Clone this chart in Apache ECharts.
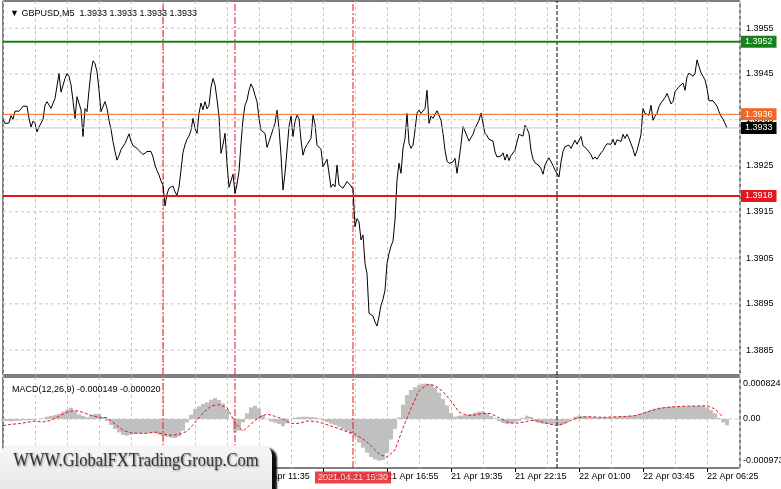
<!DOCTYPE html>
<html><head><meta charset="utf-8">
<script src="https://cdn.jsdelivr.net/npm/echarts@6/dist/echarts.min.js"></script>
<style>html,body{margin:0;padding:0;background:#fff}#c{width:781px;height:489px}</style>
</head><body><div id="c"></div>
<script>
// ---------------- data ----------------
const symbolName = 'GBPUSD,M5';
// close of every M5 bar, bar 0 = 21 Apr 00:55
const closePrices = [
1.39349,1.39340,1.39337,1.39341,1.39357,1.39349,1.39367,1.39368,1.39367,1.39372,
1.39378,1.39379,1.39378,1.39351,1.39332,1.39345,1.39340,1.39321,1.39332,1.39336,
1.39349,1.39380,1.39388,1.39385,1.39373,1.39377,1.39395,1.39399,1.39450,1.39409,
1.39406,1.39439,1.39450,1.39444,1.39425,1.39390,1.39351,1.39399,1.39395,1.39370,
1.39311,1.39373,1.39366,1.39413,1.39454,1.39478,1.39472,1.39454,1.39413,1.39366,
1.39366,1.39388,1.39373,1.39347,1.39327,1.39300,1.39278,1.39259,1.39269,1.39282,
1.39283,1.39296,1.39306,1.39317,1.39301,1.39291,1.39287,1.39285,1.39280,1.39278,
1.39271,1.39273,1.39278,1.39278,1.39278,1.39266,1.39248,1.39236,1.39226,1.39213,
1.39204,1.39158,1.39184,1.39197,1.39197,1.39202,1.39189,1.39181,1.39200,1.39237,
1.39276,1.39293,1.39305,1.39312,1.39325,1.39351,1.39329,1.39318,1.39362,1.39385,
1.39370,1.39388,1.39372,1.39380,1.39420,1.39439,1.39425,1.39393,1.39355,1.39274,
1.39293,1.39318,1.39252,1.39199,1.39196,1.39228,1.39185,1.39206,1.39234,1.39296,
1.39349,1.39380,1.39391,1.39413,1.39427,1.39418,1.39402,1.39388,1.39351,1.39325,
1.39327,1.39318,1.39287,1.39300,1.39313,1.39327,1.39340,1.39369,1.39329,1.39270,
1.39193,1.39230,1.39281,1.39333,1.39356,1.39311,1.39344,1.39358,1.39351,1.39303,
1.39270,1.39285,1.39293,1.39294,1.39307,1.39358,1.39338,1.39292,1.39296,1.39283,
1.39244,1.39248,1.39261,1.39259,1.39199,1.39206,1.39200,1.39248,1.39204,1.39203,
1.39197,1.39204,1.39212,1.39209,1.39202,1.39194,1.39112,1.39130,1.39123,1.39083,
1.39094,1.39031,1.39009,1.38921,1.38921,1.38915,1.38902,1.38893,1.38914,1.38939,
1.38952,1.38972,1.39031,1.39053,1.39069,1.39081,1.39127,1.39215,1.39252,1.39230,
1.39285,1.39307,1.39362,1.39296,1.39285,1.39292,1.39325,1.39363,1.39369,1.39362,
1.39363,1.39373,1.39413,1.39340,1.39356,1.39351,1.39351,1.39368,1.39366,1.39347,
1.39318,1.39281,1.39257,1.39252,1.39248,1.39255,1.39263,1.39230,1.39259,1.39294,
1.39333,1.39336,1.39312,1.39301,1.39300,1.39316,1.39329,1.39331,1.39347,1.39363,
1.39340,1.39318,1.39313,1.39305,1.39305,1.39301,1.39277,1.39266,1.39268,1.39268,
1.39275,1.39259,1.39272,1.39258,1.39269,1.39273,1.39281,1.39299,1.39316,1.39316,
1.39312,1.39336,1.39328,1.39318,1.39281,1.39261,1.39253,1.39250,1.39247,1.39240,
1.39228,1.39248,1.39257,1.39264,1.39261,1.39247,1.39237,1.39233,1.39222,1.39255,
1.39278,1.39289,1.39290,1.39292,1.39285,1.39287,1.39303,1.39294,1.39303,1.39311,
1.39291,1.39289,1.39283,1.39285,1.39271,1.39261,1.39266,1.39261,1.39268,1.39275,
1.39280,1.39289,1.39295,1.39292,1.39294,1.39305,1.39292,1.39304,1.39300,1.39300,
1.39316,1.39307,1.39316,1.39307,1.39295,1.39283,1.39268,1.39280,1.39297,1.39316,
1.39373,1.39362,1.39358,1.39358,1.39380,1.39347,1.39356,1.39362,1.39377,1.39385,
1.39389,1.39397,1.39406,1.39395,1.39383,1.39388,1.39410,1.39406,1.39421,1.39422,
1.39429,1.39413,1.39443,1.39451,1.39451,1.39444,1.39450,1.39480,1.39465,1.39452,
1.39444,1.39436,1.39417,1.39390,1.39387,1.39390,1.39388,1.39378,1.39366,1.39356,
1.39349,1.39340,1.39330
];
// MACD main (histogram), read every 2 bars
const macdMainStep = 2;
const macdMain = [
-0.000047,-0.000047,-0.000054,-0.000047,-0.000039,-0.000031,-0.000031,-0.000023,-0.000016,0,
0.000016,0.000054,0.000070,0.000093,0.000124,0.000171,0.000218,0.000264,0.000186,0.000109,
0.000070,0.000039,0.000085,0.000117,0.000117,0.000047,-0.000047,-0.000140,-0.000233,-0.000311,
-0.000373,-0.000389,-0.000365,-0.000350,-0.000342,-0.000334,-0.000326,-0.000319,-0.000334,-0.000365,
-0.000396,-0.000412,-0.000435,-0.000443,-0.000404,-0.000272,-0.000078,0.000101,0.000233,0.000295,
0.000350,0.000389,0.000451,0.000490,0.000443,0.000365,0.000233,0,-0.000311,-0.000272,
-0.000078,0.000132,0.000272,0.000311,0.000249,0.000093,-0.000008,-0.000062,-0.000085,-0.000117,
-0.000171,-0.000101,0.000008,0.000031,0.000047,0.000054,0.000054,0.000047,0.000039,0.000016,
-0.000031,-0.000070,-0.000109,-0.000140,-0.000179,-0.000241,-0.000280,-0.000350,-0.000427,-0.000552,
-0.000668,-0.000785,-0.000886,-0.000940,-0.000973,-0.000960,-0.000800,-0.000480,-0.000230,0.000040,
0.000334,0.000559,0.000676,0.000738,0.000790,0.000820,0.000824,0.000810,0.000738,0.000614,
0.000466,0.000319,0.000140,0.000054,0.000078,0.000085,0.000101,0.000117,0.000148,0.000171,
0.000179,0.000132,0.000070,0.000016,-0.000054,-0.000093,-0.000117,-0.000109,-0.000085,-0.000047,
0.000023,0.000078,0.000047,-0.000054,-0.000093,-0.000109,-0.000117,-0.000124,-0.000132,-0.000155,
-0.000124,-0.000078,0.000008,0.000054,0.000078,0.000070,0.000062,0.000054,0.000047,0.000039,
0.000039,0.000039,0.000047,0.000054,0.000054,0.000062,0.000070,0.000078,0.000093,0.000109,
0.000148,0.000179,0.000218,0.000241,0.000264,0.000272,0.000280,0.000287,0.000287,0.000287,
0.000295,0.000295,0.000303,0.000303,0.000311,0.000303,0.000272,0.000210,0.000132,0.000023,
-0.000078,-0.000149
];
// MACD signal, read every 4 bars
const macdSignalStep = 4;
const macdSignal = [
-0.000155,-0.000124,-0.000109,-0.000078,-0.000047,-0.000070,-0.000031,0.000062,0.000155,0.000202,
0.000155,0.000085,0.000039,0.000031,-0.000117,-0.000264,-0.000326,-0.000334,-0.000334,-0.000303,
-0.000350,-0.000381,-0.000357,-0.000287,-0.000085,0.000140,0.000303,0.000334,0.000264,-0.000078,
-0.000287,-0.000117,0.000039,0.000117,0.000062,0,-0.000101,-0.000101,-0.000047,-0.000054,
-0.000101,-0.000163,-0.000225,-0.000295,-0.000350,-0.000466,-0.000622,-0.000816,-0.000894,-0.000723,
-0.000210,0.000249,0.000660,0.000800,0.000785,0.000637,0.000420,0.000163,0.000085,0.000093,
0.000132,0.000124,0.000031,-0.000070,-0.000101,-0.000078,-0.000031,-0.000047,-0.000101,-0.000148,
-0.000117,-0.000031,0.000031,0.000054,0.000047,0.000039,0.000047,0.000054,0.000062,0.000078,
0.000132,0.000194,0.000241,0.000272,0.000287,0.000295,0.000303,0.000303,0.000311,0.000233,
0.000040
];
const macdSignalLast = -0.000020;
// x tick labels, one every 32 bars
const timeLabels = ['21 Apr 00:55','21 Apr 03:35','21 Apr 06:15','21 Apr 08:55','21 Apr 11:35','21 Apr 14:15',
  '21 Apr 16:55','21 Apr 19:35','21 Apr 22:15','22 Apr 01:00','22 Apr 03:45','22 Apr 06:25'];
// price grid
const priceGridValues = [1.39550,1.39449,1.39348,1.39246,1.39145,1.39043,1.38942,1.38840];
const priceGridLabels = ['1.3955','1.3945','1.3935','1.3925','1.3915','1.3905','1.3895','1.3885'];
// horizontal levels: resistance, pivot, bid, support
const levelValues = [1.3952, 1.3936, 1.3933, 1.3918];
// MACD scale labels
const macdLabelValues = [0.000824, 0, -0.000973];
const macdLabelTexts = ['0.000824', '0.00', '-0.000973'];
// vertical markers (bar index)
const markerBars = [80, 116, 175];
const markerTimeText = '2021.04.21 15:30';
const markerLabelBar = 175;
const daySeparatorBar = 277;

// ---------------- chart ----------------
const FONT = 'Liberation Sans';
const FS = 9;
const X_MAX = 368.5;
const P_MIN = 1.38785, P_MAX = 1.39610;
const M_MIN = -0.001142, M_MAX = 0.000979;
const levelColors = ['#17801a', '#f26522', '#c8c8c8', '#e3161c'];
const levelBoxColors = ['#17801a', '#f26522', '#000000', '#e3161c'];
const levelWidths = [2, 1, 1, 2];
const redDash = [7, 2, 2, 2];
const gridDash = [3, 3];
const gridColor = '#c4c4c4';

const chart = echarts.init(document.getElementById('c'), null, {renderer: 'canvas'});
const last = closePrices[closePrices.length - 1].toFixed(4);
const macdLast = macdMain[macdMain.length - 1];

function hLine(g, v, text, lineStyle, labelStyle, z) {
  return {type: 'line', xAxisIndex: g, yAxisIndex: g, data: [[0, v], [X_MAX, v]], symbol: 'none',
    silent: true, z: z, clip: false, lineStyle: lineStyle,
    endLabel: text ? Object.assign({show: true, formatter: text, fontFamily: FONT, fontSize: FS}, labelStyle) : {show: false}};
}
function vLine(g, b, lineStyle, z) {
  const lo = g === 0 ? P_MIN : M_MIN, hi = g === 0 ? P_MAX : M_MAX;
  return {type: 'line', xAxisIndex: g, yAxisIndex: g, data: [[b, lo], [b, hi]], symbol: 'none',
    silent: true, z: z, lineStyle: lineStyle};
}

const series = [];
// price grid lines with labels
priceGridValues.forEach((v, i) => series.push(hLine(0, v, priceGridLabels[i],
  {color: gridColor, type: gridDash, width: 1}, {color: '#000', distance: 6}, 1)));
// vertical markers in both panes
[0, 1].forEach(g => {
  markerBars.forEach(b => series.push(vLine(g, b, {color: '#e3161c', type: redDash, width: 1}, 3)));
  series.push(vLine(g, daySeparatorBar, {color: '#000', type: [4, 2], width: 1}, 3));
});
// price
series.push({type: 'line', xAxisIndex: 0, yAxisIndex: 0, data: closePrices.map((v, i) => [i, v]),
  symbol: 'none', z: 4, silent: true, lineStyle: {color: '#000', width: 1}});
// horizontal levels with boxed labels
levelValues.forEach((v, i) => series.push(hLine(0, v, v.toFixed(4),
  {color: levelColors[i], type: 'solid', width: levelWidths[i]},
  {color: '#fff', backgroundColor: levelBoxColors[i], padding: [2, 4, 1, 4], distance: 1}, 5 + i)));
// MACD scale labels and zero line
macdLabelValues.forEach((v, i) => series.push(hLine(1, v, macdLabelTexts[i],
  {color: gridColor, type: gridDash, width: 1, opacity: v === 0 ? 1 : 0}, {color: '#000', distance: 3}, 1)));
// MACD histogram
series.push({type: 'bar', xAxisIndex: 1, yAxisIndex: 1, data: macdMain.map((v, j) => [j * macdMainStep, v]),
  barWidth: 4, itemStyle: {color: '#c0c0c0'}, z: 2, silent: true});
// MACD signal
series.push({type: 'line', xAxisIndex: 1, yAxisIndex: 1, data: macdSignal.map((v, k) => [k * macdSignalStep, v]),
  symbol: 'none', z: 4, silent: true, lineStyle: {color: '#e3161c', width: 1, type: [3, 2]}});
// time box under the marker
series.push({type: 'scatter', xAxisIndex: 1, yAxisIndex: 1, data: [[markerLabelBar, M_MIN]], symbolSize: 1,
  itemStyle: {color: 'rgba(0,0,0,0)'}, z: 10, silent: true,
  label: {show: true, position: 'bottom', distance: 3, formatter: markerTimeText, color: '#fff',
    backgroundColor: '#e3161c', padding: [2, 3, 1, 3], fontFamily: FONT, fontSize: FS}});

const option = {
  animation: false,
  backgroundColor: '#fff',
  title: [
    {text: '\u25BC ' + symbolName + '  ' + [last, last, last, last].join(' '), left: 5, top: 4,
      textStyle: {fontFamily: FONT, fontSize: FS, fontWeight: 'normal', color: '#000'}},
    {text: 'MACD(12,26,9) ' + macdLast.toFixed(6) + ' ' + macdSignalLast.toFixed(6), left: 7, top: 380,
      textStyle: {fontFamily: FONT, fontSize: FS, fontWeight: 'normal', color: '#000'}}
  ],
  grid: [
    {left: 3, right: 41, top: 1, height: 374, show: true, borderColor: '#000', borderWidth: 1, backgroundColor: 'transparent'},
    {left: 3, right: 41, top: 377, height: 91, show: true, borderColor: '#000', borderWidth: 1, backgroundColor: 'transparent'}
  ],
  xAxis: [
    {gridIndex: 0, type: 'value', min: 0, max: X_MAX, interval: 16,
      axisLine: {show: false}, axisTick: {show: false}, axisLabel: {show: false},
      splitLine: {show: true, lineStyle: {color: gridColor, type: gridDash}}},
    {gridIndex: 1, type: 'value', min: 0, max: X_MAX, interval: 16,
      axisLine: {show: false}, axisTick: {show: false}, axisLabel: {show: false},
      splitLine: {show: true, lineStyle: {color: gridColor, type: gridDash}}},
    {gridIndex: 1, type: 'value', min: 0, max: X_MAX, interval: 32, position: 'bottom',
      axisLine: {show: false}, axisTick: {show: true, length: 4, lineStyle: {color: '#000'}},
      splitLine: {show: false},
      axisLabel: {show: true, align: 'left', margin: 4, color: '#000', fontFamily: FONT, fontSize: FS,
        showMaxLabel: false,
        formatter: v => (v % 32 === 0 && timeLabels[v / 32]) ? timeLabels[v / 32] : ''}}
  ],
  yAxis: [
    {gridIndex: 0, type: 'value', position: 'right', min: P_MIN, max: P_MAX,
      axisLine: {show: false}, axisTick: {show: false}, axisLabel: {show: false}, splitLine: {show: false}},
    {gridIndex: 1, type: 'value', position: 'right', min: M_MIN, max: M_MAX,
      axisLine: {show: false}, axisTick: {show: false}, axisLabel: {show: false}, splitLine: {show: false}}
  ],
  series: series,
  graphic: [
    {type: 'group', left: 0, top: 445, z: 100, zlevel: 1, children: [
      {type: 'rect', z: 100, zlevel: 1, shape: {x: 0, y: 0, width: 272, height: 60, r: 10},
        style: {fill: new echarts.graphic.LinearGradient(0, 0, 0, 1, [
          {offset: 0, color: '#f7f7f7'}, {offset: 1, color: '#e2e2e2'}]),
          shadowBlur: 2, shadowColor: 'rgba(0,0,0,0.95)', shadowOffsetX: 5, shadowOffsetY: 3}},
      {type: 'text', z: 101, zlevel: 1, x: 136, y: 18, scaleY: 1.12, originX: 136, originY: 18,
        style: {text: 'WWW.GlobalFXTradingGroup.Com', fill: '#333',
        font: '16.5px "Liberation Serif"', textAlign: 'center', textVerticalAlign: 'middle',
        textShadowColor: 'rgba(0,0,0,0.45)', textShadowBlur: 2, textShadowOffsetX: 1, textShadowOffsetY: 1}}
    ]}
  ]
};
chart.setOption(option);
</script>
</body></html>
